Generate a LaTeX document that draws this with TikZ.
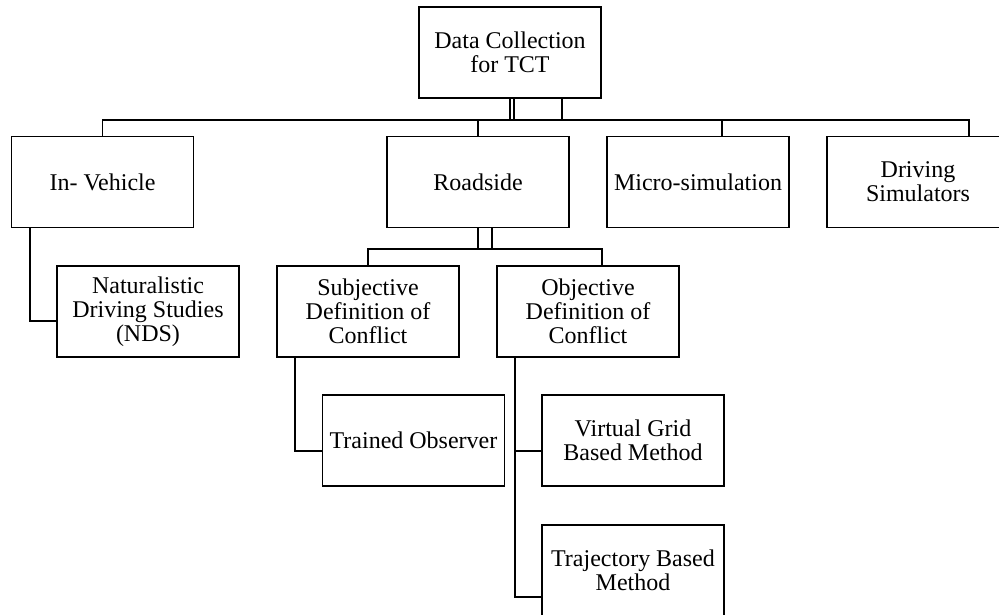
\documentclass[tikz,border=0pt]{standalone}
\usepackage{fontspec}
\setmainfont{Liberation Serif}
\usepackage{tikz}
\usetikzlibrary{positioning}
\usetikzlibrary{calc}

\begin{document}
\begin{tikzpicture}[x=1pt,y=-1pt,line width=1.3pt,
	box/.style={draw, minimum width=182pt, minimum height=91pt, inner sep=1pt, align=center,
		font=\fontsize{24}{24}\selectfont}]
\clip (0,0) rectangle (999,614);

\node (top) at (510,52.5) [box] {Data Collection\\for TCT};

\node (veh) at (102.5,182) [box] {In- Vehicle};
\node (road) at (478,182) [box] {Roadside};
\node (micro) at (698,182) [box] {Micro-simulation};
\node (drive) at (918,182) [box] {Driving\\Simulators};

\node (nds) at (148,311.5) [box] {Naturalistic\\Driving Studies\\(NDS)};
\node (subj) at (368,311.5) [box] {Subjective\\Definition of\\Conflict};
\node (obj) at (588,311.5) [box] {Objective\\Definition of\\Conflict};

\node (obs) at (413.5,440.5) [box] {Trained Observer};
\node (grid) at (633,440.5) [box] {Virtual Grid\\Based Method};
\node (traj) at (633,570.5) [box] {Trajectory Based\\Method};

\coordinate (bus) at (0,120);
\coordinate (bus2) at (0,249);

% first level
\draw (top.south) -- (top.south |- bus);
\draw ([xshift=4pt]top.south) -- ([xshift=4pt]top.south |- bus);
\draw ([xshift=52pt]top.south) -- ([xshift=52pt]top.south |- bus);
\draw (veh.north) -- (veh.north |- bus) -- ([xshift=51pt]drive.north |- bus) -- ([xshift=51pt]drive.north);
\draw (road.north) -- (road.north |- bus);
\draw ([xshift=24pt]micro.north) -- ([xshift=24pt]micro.north |- bus);

% roadside
\draw (road.south) -- (road.south |- bus2);
\draw ([xshift=14pt]road.south) -- ([xshift=14pt]road.south |- bus2);
\draw (subj.north) -- (subj.north |- bus2) -- ([xshift=14pt]obj.north |- bus2) -- ([xshift=14pt]obj.north);

% side branches
\draw ([xshift=-72.5pt]veh.south) |- ([yshift=-9.5pt]nds.west);
\draw ([xshift=-73pt]subj.south) |- ([yshift=-10.5pt]obs.west);
\draw ([xshift=-73pt]obj.south) |- ([yshift=-10.5pt]grid.west);
\draw ([xshift=-73pt]obj.south) |- ([yshift=-26.5pt]traj.west);
\end{tikzpicture}
\end{document}
